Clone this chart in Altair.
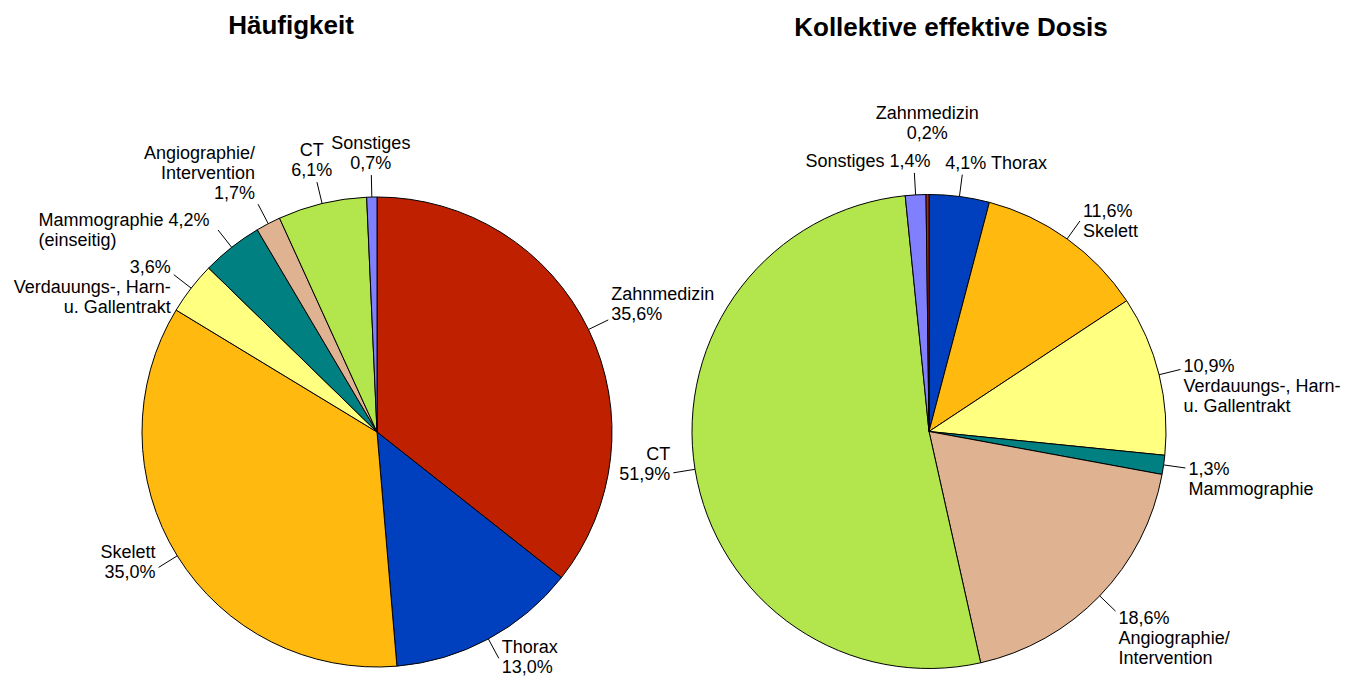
import altair as alt
import pandas as pd

# ---------------- data ----------------
categories = ["Zahnmedizin", "Thorax", "Skelett", "Verdauungs", "Mammographie",
              "Angiographie", "CT", "Sonstiges"]
colors = ["#BF2000", "#0040BF", "#FFB90F", "#FFFF80", "#008080",
          "#DFB391", "#B3E64D", "#8080FF"]

# Häufigkeit (clockwise from 12 o'clock)
left_cats = ["Zahnmedizin", "Thorax", "Skelett", "Verdauungs", "Mammographie",
             "Angiographie", "CT", "Sonstiges"]
left_values = [35.6, 13.0, 35.0, 3.6, 4.2, 1.7, 6.1, 0.7]
left_labels = ["Zahnmedizin\n#", "Thorax\n#", "Skelett\n#",
               "#\nVerdauungs-, Harn-\nu. Gallentrakt",
               "Mammographie  #\n(einseitig)",
               "Angiographie/\nIntervention\n#", "CT\n#", "Sonstiges\n#"]

# Kollektive effektive Dosis (clockwise from 12 o'clock)
right_cats = ["Thorax", "Skelett", "Verdauungs", "Mammographie", "Angiographie",
              "CT", "Sonstiges", "Zahnmedizin"]
right_values = [4.1, 11.6, 10.9, 1.3, 18.6, 51.9, 1.4, 0.2]
right_labels = ["# Thorax", "#\nSkelett", "#\nVerdauungs-, Harn-\nu. Gallentrakt",
                "#\nMammographie", "#\nAngiographie/\nIntervention", "CT\n#",
                "Sonstiges #", "Zahnmedizin\n#"]

titles = ["Häufigkeit", "Kollektive effektive Dosis"]

FONT = "Liberation Sans"
FS = 18
LH = 20


def text_width(s):
    w = 0.0
    for ch in s:
        if ch in "iljI.,:;'|!":
            w += 0.24
        elif ch in "tf/()-r ":
            w += 0.31
        elif ch in "mM%":
            w += 0.85
        elif ch in "wW":
            w += 0.75
        elif ch.isupper():
            w += 0.68
        else:
            w += 0.556
    return w * FS


rows = []
for pie, cats, vals, tpls in [("L", left_cats, left_values, left_labels),
                              ("R", right_cats, right_values, right_labels)]:
    for i, (c, v, t) in enumerate(zip(cats, vals, tpls)):
        pct = f"{v:.1f}".replace(".", ",") + "%"
        lines = t.split("\n")
        k = next(j for j, l in enumerate(lines) if "#" in l)
        vline = lines[k]
        combined = vline.strip() != "#"
        offset = text_width(vline[:vline.index("#")]) if combined else 0.0
        rows.append({"pie": pie, "cat": c, "value": v, "order": i,
                     "label": t.replace("#", pct),
                     "wv": text_width(pct), "off": offset,
                     "k": k, "n": len(lines), "comb": combined})
df = pd.DataFrame(rows)

color_scale = alt.Scale(domain=categories, range=colors)


def pie_layers(pie, cx, cy, R, L, title, tx, ty):
    base = (alt.Chart(df)
            .transform_filter(alt.datum.pie == pie)
            .transform_joinaggregate(total="sum(value)")
            .transform_window(cum="sum(value)", sort=[alt.SortField("order")],
                              frame=[None, 0])
            .transform_calculate(
                start="(datum.cum - datum.value) / datum.total * 2 * PI",
                end="datum.cum / datum.total * 2 * PI",
                frac="datum.value / datum.total")
            .transform_calculate(mid="(datum.start + datum.end) / 2")
            .transform_calculate(sx="sin(datum.mid)", cy_="cos(datum.mid)")
            .transform_calculate(
                x1=f"{cx} + {R} * datum.sx", y1=f"{cy} - {R} * datum.cy_",
                x2=f"{cx} + {R + L} * datum.sx", y2=f"{cy} - {R + L} * datum.cy_",
                side="datum.sx > 0.3 ? 1 : (datum.sx < -0.3 ? -1 : 0)")
            .transform_calculate(
                vx="datum.x2 + (datum.side != 0 ? datum.side * (datum.wv / 2 + 3)"
                   " : datum.sx * (datum.wv / 2 + 2))",
                vy=f"datum.y2 - datum.cy_ * {LH / 2 + 1} - "
                   f"(datum.frac < 0.005 ? {1.4 * LH} : 0)",
                al="datum.comb ? 'left' : (datum.side > 0 ? 'left' : "
                   "(datum.side < 0 ? 'right' : 'center'))")
            .transform_calculate(
                tx="datum.comb ? datum.vx - datum.wv / 2 - datum.off : "
                   "(datum.al == 'left' ? datum.vx - datum.wv / 2 : "
                   "(datum.al == 'right' ? datum.vx + datum.wv / 2 : datum.vx))",
                ty=f"datum.vy - datum.k * {LH}")
            )
    arcs = base.mark_arc(stroke="black", strokeWidth=1).encode(
        theta=alt.Theta("start:Q", scale=None),
        theta2=alt.Theta2("end:Q"),
        radius=alt.value(R),
        x=alt.value(cx), y=alt.value(cy),
        color=alt.Color("cat:N", scale=color_scale, legend=None),
        order=alt.Order("order:Q"),
    )
    leaders = (base.transform_filter("datum.frac >= 0.005")
               .mark_rule(color="black", strokeWidth=1).encode(
                   x=alt.X("x1:Q", scale=None), y=alt.Y("y1:Q", scale=None),
                   x2="x2:Q", y2="y2:Q"))
    layers = [arcs, leaders]
    for al in ["left", "right", "center"]:
        layers.append(
            base.transform_filter(alt.datum.al == al)
            .mark_text(align=al, baseline="middle", font=FONT, fontSize=FS,
                       lineBreak="\n", lineHeight=LH, color="black")
            .encode(x=alt.X("tx:Q", scale=None), y=alt.Y("ty:Q", scale=None),
                    text="label:N"))
    ttl = alt.Chart(pd.DataFrame({"t": [title]})).mark_text(
        font=FONT, fontSize=26, fontWeight="bold", align="center",
        baseline="middle", color="black").encode(
        x=alt.value(tx), y=alt.value(ty), text="t:N")
    layers.append(ttl)
    return layers


layers = (pie_layers("L", 369, 424, 235, 22, titles[0], 283, 18)
          + pie_layers("R", 921, 423.5, 237, 22, titles[1], 943, 20))

chart = (alt.layer(*layers)
         .properties(width=1335, height=673, padding=0, autosize="none")
         .configure(background="white")
         .configure_view(stroke=None))

chart.save("out.html", embed_options={"renderer": "svg", "actions": False})
